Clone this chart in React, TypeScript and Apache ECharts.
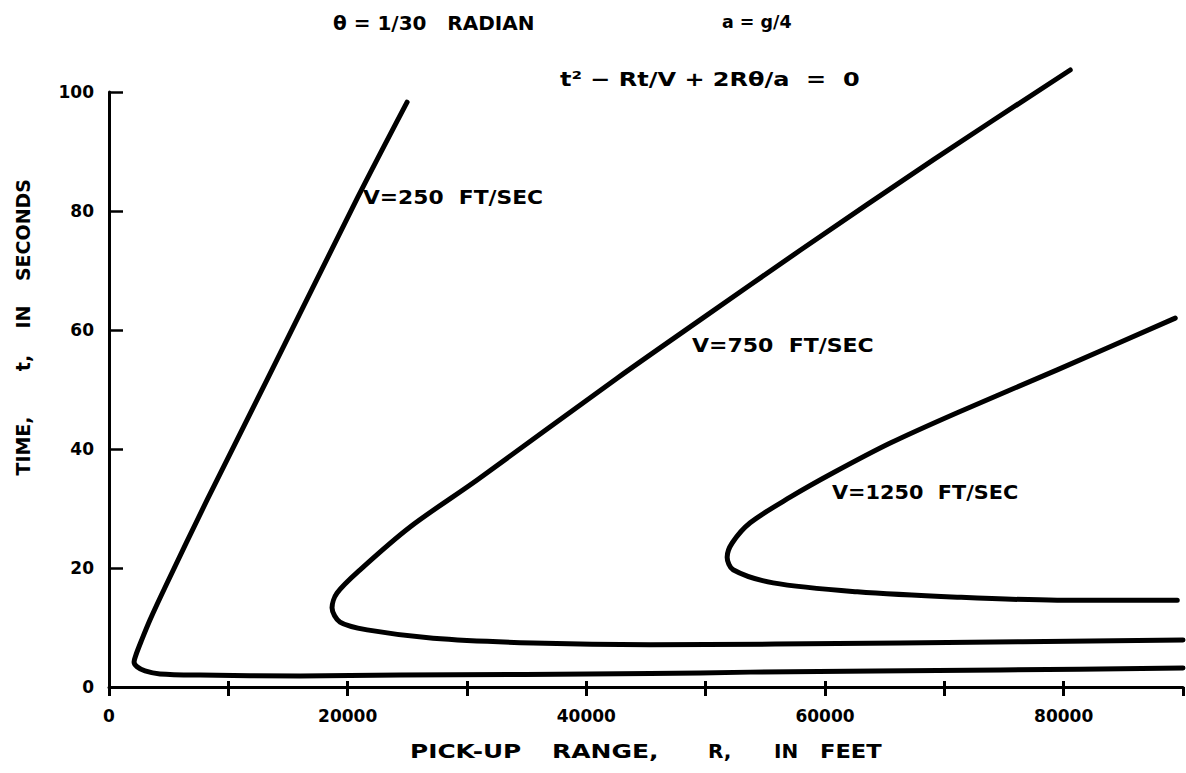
import React, { useEffect, useRef } from "react";
import * as echarts from "echarts";

// Pick-up range R (feet) and time t (seconds),
// from the top end of the upper branch, round the tip, to the right end of the lower branch.
const rangeV250 = [24980, 20870, 13240, 8210, 4780, 3440, 2680, 2260, 2100, 2350, 3020, 4270, 7630, 16010, 24390, 45350, 53730, 74690, 90000];
const timeV250 = [98.3, 82.4, 51.6, 31.4, 17.1, 11.3, 7.6, 5.4, 4.2, 3.4, 2.7, 2.2, 2.0, 1.85, 2.0, 2.25, 2.5, 2.85, 3.2];

const rangeV750 = [80550, 69070, 57920, 49540, 42580, 30850, 25230, 21040, 19110, 18690, 19360, 21630, 27160, 35540, 45350, 66300, 90000];
const timeV750 = [103.7, 88.6, 73.4, 61.7, 51.9, 34.8, 26.9, 19.7, 15.8, 13.3, 10.9, 9.6, 8.2, 7.4, 7.1, 7.4, 7.9];

const rangeV1250 = [89350, 79460, 71080, 65470, 60690, 57080, 53730, 52220, 51800, 52300, 55660, 62700, 71080, 79460, 89520];
const timeV1250 = [62.0, 53.3, 46.1, 41.0, 36.0, 31.9, 27.6, 24.2, 21.8, 19.7, 17.5, 16.0, 15.1, 14.6, 14.6];

const seriesNames = ["V=250  FT/SEC", "V=750  FT/SEC", "V=1250  FT/SEC"];
const xTickLabels = ["0", "20000", "40000", "60000", "80000"];
const yTickLabels = ["0", "20", "40", "60", "80", "100"];

const FONT = "DejaVu Sans";

function pairs(r: number[], t: number[]) {
  return r.map((v, i) => [v, t[i]]);
}

export default function App() {
  const ref = useRef<HTMLDivElement>(null);
  useEffect(() => {
    if (!ref.current) return;
    const chart = echarts.init(ref.current, undefined, { renderer: "svg" });
    const txt = (text: string, x: number, y: number, size = 20, sx = 1, extra: any = {}) => ({
      type: "text",
      x,
      y,
      scaleX: sx,
      scaleY: 1,
      ...extra,
      style: {
        text,
        fill: "#000",
        font: `bold ${size}px "${FONT}"`,
        textVerticalAlign: "middle",
        ...(extra.style || {}),
      },
    });
    const vtxt = (text: string, y: number) =>
      txt(text, 23, y, 19, 1, { rotation: Math.PI / 2, style: { textAlign: "center" } });
    const lineStyle = { color: "#000", width: 5, cap: "round", join: "round" };
    const mk = (name: string, data: number[][]) => ({
      name,
      type: "line",
      data,
      symbol: "none",
      smooth: 0.3,
      clip: false,
      lineStyle,
      xAxisIndex: 0,
      yAxisIndex: 0,
    });
    chart.setOption({
      animation: false,
      backgroundColor: "#fff",
      grid: { left: 109, right: 3, top: 92, bottom: 86, containLabel: false },
      xAxis: [
        {
          type: "value",
          min: 0,
          max: 90000,
          interval: 10000,
          position: "bottom",
          axisLine: { lineStyle: { color: "#000", width: 3 } },
          axisTick: { inside: true, length: 6, lineStyle: { color: "#000", width: 3 } },
          splitLine: { show: false },
          axisLabel: {
            color: "#000",
            fontFamily: FONT,
            fontWeight: "bold",
            fontSize: 17,
            margin: 20,
            showMaxLabel: false,
            formatter: (v: number) => {
              const s = String(v);
              return xTickLabels.indexOf(s) >= 0 ? s : "";
            },
          },
        },
        {
          type: "value",
          min: 0,
          max: 90000,
          interval: 10000,
          position: "bottom",
          axisLine: { show: false },
          axisTick: { inside: false, length: 9, lineStyle: { color: "#000", width: 3 } },
          splitLine: { show: false },
          axisLabel: { show: false },
        },
      ],
      yAxis: {
        type: "value",
        min: 0,
        max: 100,
        interval: 20,
        axisLine: { show: true, lineStyle: { color: "#000", width: 3 } },
        axisTick: { show: true, inside: true, length: 14, lineStyle: { color: "#000", width: 2.5 } },
        splitLine: { show: false },
        axisLabel: {
          color: "#000",
          fontFamily: FONT,
          fontWeight: "bold",
          fontSize: 17,
          margin: 15,
          formatter: (v: number) => (yTickLabels.indexOf(String(v)) >= 0 ? String(v) : ""),
        },
      },
      series: [
        mk(seriesNames[0], pairs(rangeV250, timeV250)),
        mk(seriesNames[1], pairs(rangeV750, timeV750)),
        mk(seriesNames[2], pairs(rangeV1250, timeV1250)),
      ],
      graphic: [
        txt("θ = 1/30   RADIAN", 333, 23, 20, 1.0),
        txt("a = g/4", 722, 22, 18, 0.97),
        txt("t² − Rt/V + 2Rθ/a  =  0", 560, 79, 20, 1.2),
        txt(seriesNames[0], 363, 197, 20, 1.09),
        txt(seriesNames[1], 692, 345, 20, 1.1),
        txt(seriesNames[2], 832, 492, 20, 1.04),
        txt("PICK-UP", 410, 751, 20, 1.24),
        txt("RANGE,", 552, 751, 20, 1.25),
        txt("R,", 708, 751, 20, 1.0),
        txt("IN", 774, 751, 20, 1.0),
        txt("FEET", 820, 751, 20, 1.13),
        vtxt("SECONDS", 230),
        vtxt("IN", 317),
        vtxt("t,", 363),
        vtxt("TIME,", 446),
      ],
    });
    return () => chart.dispose();
  }, []);
  return (
    <div
      ref={ref}
      style={{ position: "absolute", left: 0, top: 0, width: 1186, height: 773, background: "#fff" }}
    />
  );
}
